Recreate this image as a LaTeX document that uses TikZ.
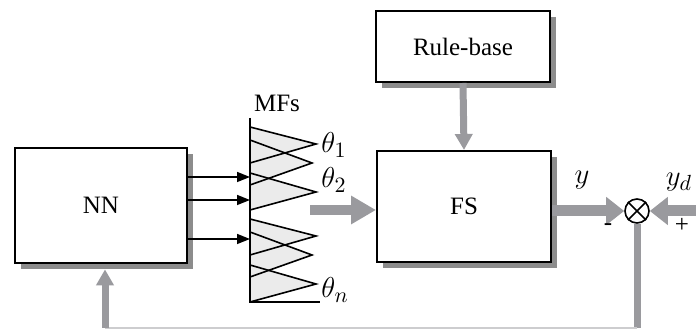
\documentclass[tikz,border=0pt]{standalone}
\usepackage{fontspec}
\setmainfont{Liberation Serif}
\usetikzlibrary{arrows.meta, positioning, calc}
\definecolor{arrg}{HTML}{9A9A9E}
\definecolor{mfc}{HTML}{EBEBEB}

\begin{document}
\begin{tikzpicture}[x=0.5pt, y=0.5pt, font=\fontsize{12.5}{15}\selectfont,
          blk/.style={draw, line width=1pt, fill=white, inner sep=0pt},
          shd/.style={fill=black!45, draw=none},
          lbl/.style={font=\fontsize{15}{17}\selectfont},
          ar/.style={-{Triangle[length=6.5pt, width=5pt]}, line width=0.75pt},
          fat/.style={arrg, line width=5pt, -{Triangle[length=12.5pt, width=13.5pt]}},
          sar/.style={arrg, line width=5.5pt, -{Triangle[length=9pt, width=13.5pt]}},
          gar/.style={arrg, line width=3.5pt, -{Triangle[length=8pt, width=8.5pt]}}]
        \useasboundingbox (0,0) rectangle (696,330);
        % shadows of the blocks
        \node[shd, minimum width=86pt, minimum height=57.5pt] (nns) at (107,118.5) {};
        \node[shd, minimum width=87pt, minimum height=35.5pt] (rbs) at (469,277.5) {};
        \node[shd, minimum width=87pt, minimum height=55.5pt] (fss) at (470,117.5) {};
        % blocks
        \node[blk, minimum width=86pt, minimum height=57.5pt] (nn) at (101,124.5) {NN};
        \node[blk, minimum width=87pt, minimum height=35.5pt] (rb) at (463,283.5) {Rule-base};
        \node[blk, minimum width=87pt, minimum height=55.5pt] (fs) at (464,123.5) {FS};
        \node[circle, draw, line width=0.8pt, fill=white, minimum size=12pt, inner sep=0pt] (sum) at (637,119) {};
        \draw[line width=0.8pt] (sum.north east) -- (sum.south west) (sum.north west) -- (sum.south east);
        % membership functions
        \foreach \o in {0,92}{ \foreach \a/\b/\c/\p in {203/186/167/316, 190/167/145/312, 157/138/120/316}{ \fill[mfc] (250,\a-\o) -- (\p,\b-\o) -- (250,\c-\o) -- cycle; } }
        \foreach \o in {0,92}{ \foreach \a/\b/\c/\p in {203/186/167/316, 190/167/145/312, 157/138/120/316}{ \draw[line width=0.8pt] (250,\a-\o) -- (\p,\b-\o) -- (250,\c-\o); } }
        \draw[line width=1pt] (250,212) -- (250,28) -- (320,28);
        \node (mfs) at (277,227) {MFs};
        \node[lbl, anchor=west, inner sep=0pt] (t1) at (321,185) {$\theta_1$};
        \node[lbl, anchor=west, inner sep=0pt] (t2) at (321,150) {$\theta_2$};
        \node[lbl, anchor=west, inner sep=0pt] (tn) at (321,40) {$\theta_n$};
        \coordinate (mf1) at (250,153); \coordinate (mf2) at (250,130); \coordinate (mf3) at (250,91);
        \foreach \m in {mf1,mf2,mf3}{ \draw[ar] (nn.east |- \m) -- (\m); }
        % gray signal arrows
        \coordinate (th) at (310,120);
        \draw[fat] (th) -- (fs.west |- th);
        \draw[gar] (rb.south) -- (fs.north);
        \draw[sar] (fs.east |- sum) -- (sum.west);
        \coordinate (yd) at (696,119);
        \draw[sar] (yd) -- (sum.east);
        \node[lbl] (ly) at (582,150) {$y$};
        \node[lbl] (lyd) at (679,148) {$y_d$};
        \node (mn) at (608,103) {-};
        \node (pl) at (682,105) {+};
        % feedback
        \coordinate (fb1) at (637,2); \coordinate (fb2) at (105,2);
        \draw[arrg, line width=3.5pt] (sum.south) -- (fb1);
        \draw[arrg!50, line width=0.6pt] (fb1) -- (fb2);
        \draw[gar] (fb2) -- (fb2 |- nns.south);
      \end{tikzpicture}
\end{document}
